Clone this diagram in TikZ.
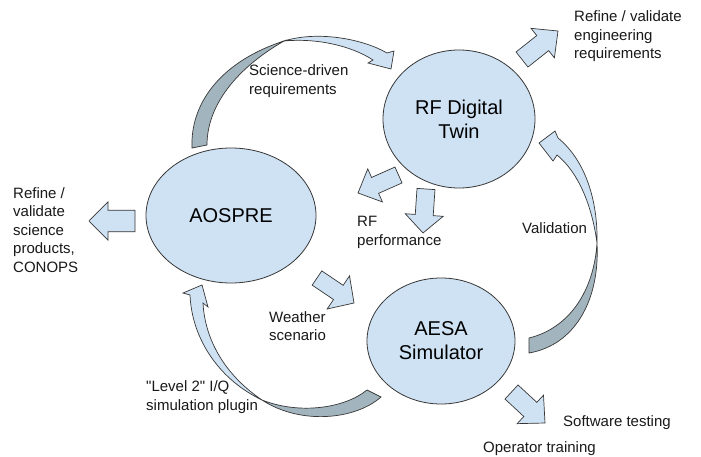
\documentclass[tikz,border=0pt]{standalone}
\usepackage{fontspec}
\setmainfont{Liberation Sans}[Ligatures=TeXOff]
\usetikzlibrary{calc,shapes.geometric}
\definecolor{bubble}{RGB}{207,226,243}
\definecolor{backside}{RGB}{162,180,190}
\definecolor{edge}{RGB}{55,55,55}
\definecolor{ink}{RGB}{25,25,25}
\newcommand\blockarrow[5]{%
  \coordinate (#1-j) at ($(#2)!#5pt!(#1)$);
  \path[blockfill] ($(#1)!#3pt!90:(#2)$) -- ($(#1-j)!#3pt!-90:(#1)$) -- ($(#1-j)!#4pt!-90:(#1)$) -- (#2)
    -- ($(#1-j)!#4pt!90:(#1)$) -- ($(#1-j)!#3pt!90:(#1)$) -- ($(#1)!#3pt!-90:(#2)$) -- cycle;}
\tikzset{
  bubble/.style={ellipse, draw=edge, fill=bubble, line width=0.8pt, align=center, inner sep=0pt,
    font=\fontsize{20}{24}\selectfont},
  lbl/.style={align=left, anchor=west, inner sep=0pt, text=ink, font=\fontsize{15}{18.5}\selectfont},
  blockfill/.style={fill=bubble, draw=edge, line width=0.7pt, line join=miter},
  backfill/.style={fill=backside, draw=edge, line width=0.7pt, line join=miter}
}
\begin{document}
\begin{tikzpicture}[x=1pt,y=-1pt]
\useasboundingbox (0,0) rectangle (701,457);
\fill[white] (0,0) rectangle (701,457);
% bubbles
\node[bubble, minimum width=170pt, minimum height=135pt] (aospre) at (231,215.5) {AOSPRE};
\node[bubble, minimum width=152pt, minimum height=138pt] (rf) at (459,119) {RF Digital\\Twin};
\node[bubble, minimum width=148pt, minimum height=126pt] (aesa) at (441,341) {AESA\\Simulator};
% curved arrow: science-driven requirements (AOSPRE -> RF)
\path[backfill] (192,148) .. controls (190,100) and (225,60) .. (284,41)
  .. controls (237,68) and (207,105) .. (207,145) -- cycle;
\path[blockfill] (284,41) .. controls (320,30) and (365,40) .. (387,53) -- (394,51) -- (391,69)
  -- (368,63) -- (373,60) .. controls (350,45) and (315,38) .. (284,41) -- cycle;
% curved arrow: validation (AESA -> RF)
\path[backfill] (529,353) .. controls (575,345) and (600,300) .. (597,243)
  .. controls (594,290) and (570,328) .. (529,338) -- cycle;
\path[blockfill] (597,243) .. controls (598,200) and (585,160) .. (558,138) -- (555,131) -- (539,143)
  -- (553,161) -- (557,155) .. controls (578,172) and (592,205) .. (597,243) -- cycle;
% curved arrow: level 2 plugin (AESA -> AOSPRE)
\path[backfill] (381,397) .. controls (355,420) and (300,425) .. (262,400)
  .. controls (300,415) and (345,408) .. (367,390) -- cycle;
\path[blockfill] (262,400) .. controls (220,380) and (192,340) .. (190,295) -- (183,293) -- (202,285)
  -- (208,307) -- (203,303) .. controls (205,340) and (225,375) .. (262,400) -- cycle;
% straight block arrows
\coordinate (eng-s) at (522,59.5); \coordinate (eng-e) at (558,31);
\blockarrow{eng-s}{eng-e}{9.6}{18.8}{19.5}
\coordinate (rfa-s) at (398.5,175); \coordinate (rfa-e) at (358,193);
\blockarrow{rfa-s}{rfa-e}{8.7}{18.1}{18.7}
\coordinate (rfb-s) at (426,189); \coordinate (rfb-e) at (423,233);
\blockarrow{rfb-s}{rfb-e}{9}{19}{18}
\coordinate (sci-s) at (135,221); \coordinate (sci-e) at (89,221);
\blockarrow{sci-s}{sci-e}{10.8}{19.2}{19}
\coordinate (wx-s) at (317,278); \coordinate (wx-e) at (354,303);
\blockarrow{wx-s}{wx-e}{8.6}{20}{18.9}
\coordinate (sw-s) at (511.5,392); \coordinate (sw-e) at (545,423);
\blockarrow{sw-s}{sw-e}{9.6}{19.4}{20}
% labels
\node[lbl] (sdr) at (249,81) {Science-driven\\requirements};
\node[lbl] (engl) at (574,36.5) {Refine / validate\\engineering\\requirements};
\node[lbl] (rfp) at (357,232.5) {RF\\performance};
\node[lbl] (val) at (522,228) {Validation};
\node[lbl] (scil) at (13,230) {Refine /\\validate\\science\\products,\\CONOPS};
\node[lbl] (wxl) at (269,326) {Weather\\scenario};
\node[lbl] (lvl) at (146,397) {"Level 2" I/Q\\simulation plugin};
\node[lbl] (swt) at (563,423) {Software testing};
\node[lbl] (opt) at (483,449) {Operator training};
\end{tikzpicture}
\end{document}
